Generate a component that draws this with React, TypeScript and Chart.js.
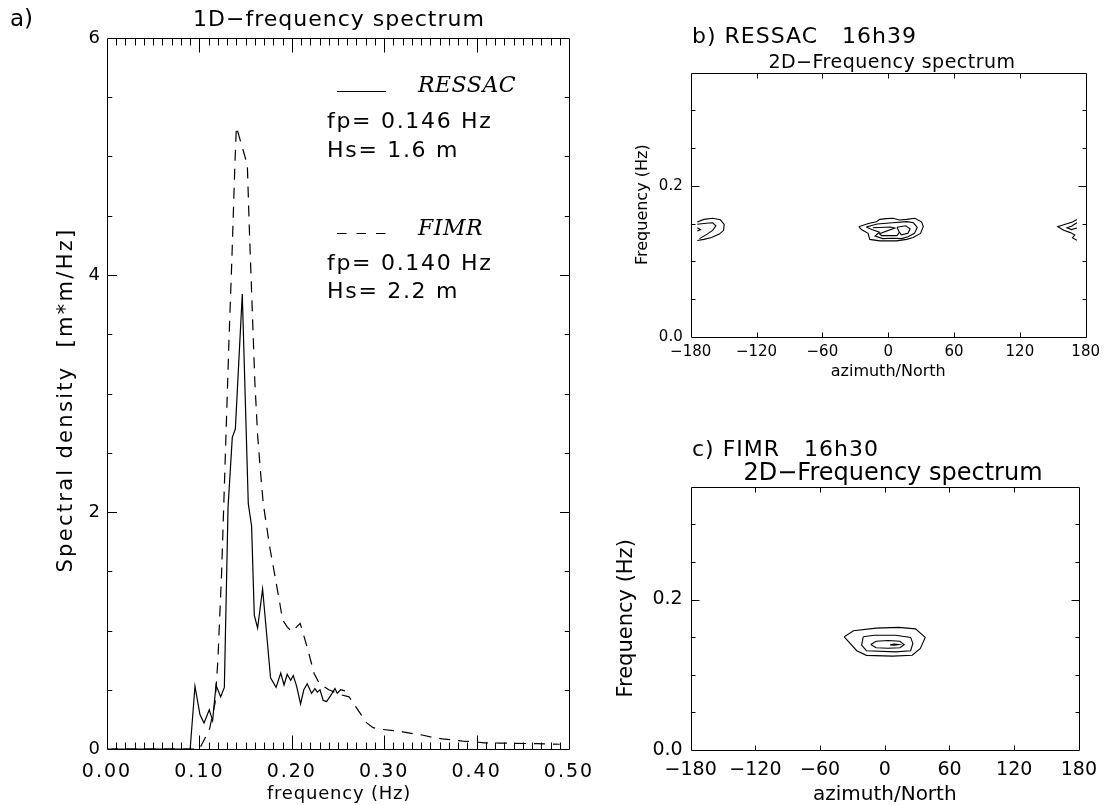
import React, { useEffect, useRef } from 'react';
import { Chart, registerables } from 'chart.js';

Chart.register(...registerables);

// ---------------- Panel a : 1D frequency spectrum ----------------
const RESSAC_FREQ = [0.005, 0.09, 0.0952, 0.1006, 0.105, 0.1107, 0.1143, 0.118, 0.123, 0.127, 0.131, 0.1356, 0.1389, 0.1464, 0.1529, 0.1565, 0.1594, 0.163, 0.1684, 0.177, 0.183, 0.188, 0.1916, 0.195, 0.1988, 0.2016, 0.2052, 0.2095, 0.213, 0.2167, 0.2214, 0.225, 0.2276, 0.2305, 0.234, 0.2377, 0.242, 0.2467, 0.2492, 0.2528, 0.2575];
const RESSAC_DENSITY = [0, 0, 0.53, 0.29, 0.22, 0.33, 0.24, 0.54, 0.44, 0.52, 2.04, 2.63, 2.7, 3.84, 2.07, 1.88, 1.13, 1.02, 1.35, 0.6, 0.52, 0.64, 0.54, 0.63, 0.58, 0.62, 0.53, 0.38, 0.5, 0.55, 0.47, 0.51, 0.48, 0.5, 0.41, 0.4, 0.45, 0.51, 0.47, 0.5, 0.49];

const FIMR_FREQ = [0.0, 0.1, 0.106, 0.111, 0.117, 0.12, 0.124, 0.1285, 0.132, 0.135, 0.1385, 0.14, 0.143, 0.15, 0.152, 0.154, 0.157, 0.16, 0.163, 0.166, 0.169, 0.171, 0.176, 0.182, 0.187, 0.19, 0.195, 0.2, 0.209, 0.2125, 0.218, 0.224, 0.23, 0.24, 0.252, 0.262, 0.268, 0.275, 0.281, 0.288, 0.298, 0.31, 0.32, 0.331, 0.341, 0.353, 0.363, 0.375, 0.385, 0.397, 0.408, 0.425, 0.442, 0.465, 0.49];
const FIMR_DENSITY = [0, 0, 0.09, 0.17, 0.39, 0.75, 1.48, 2.58, 3.45, 4.1, 4.95, 5.25, 5.17, 4.98, 4.9, 4.4, 3.75, 3.1, 2.65, 2.35, 2.08, 1.97, 1.71, 1.45, 1.23, 1.09, 1.03, 0.99, 1.06, 0.97, 0.82, 0.64, 0.55, 0.5, 0.46, 0.44, 0.37, 0.29, 0.22, 0.18, 0.165, 0.155, 0.145, 0.13, 0.118, 0.097, 0.086, 0.076, 0.066, 0.062, 0.052, 0.05, 0.048, 0.045, 0.04];

const A_X_TICKS = [0, 0.1, 0.2, 0.3, 0.4, 0.5];
const A_Y_TICKS = [0, 2, 4, 6];

// ---------------- Panels b, c : 2D spectra (contour lines, [azimuth, frequency]) ----------------
const AZ_TICKS = [-180, -120, -60, 0, 60, 120, 180];
const F2D_TICKS = [0.0, 0.2];

const RESSAC_CENTER_OUTER = [[-26.8, 0.1458], [-18, 0.15], [-10.7, 0.1524], [-7.6, 0.1556], [-2, 0.1565], [4.6, 0.157], [10, 0.1548], [16.8, 0.1556], [24.4, 0.157], [30.5, 0.152], [32, 0.146], [29.5, 0.137], [22.8, 0.1316], [16.8, 0.129], [7.6, 0.127], [-7.6, 0.127], [-16.8, 0.129], [-18.3, 0.137], [-24.4, 0.142], [-26.8, 0.1458]];
const RESSAC_CENTER_MID = [[-20, 0.1455], [-10, 0.1495], [4, 0.151], [17, 0.1525], [23, 0.151], [26.5, 0.145], [24, 0.137], [18, 0.1325], [12, 0.13], [4, 0.1305], [-5, 0.13], [-12, 0.1335], [-8, 0.1385], [-15, 0.142], [-20, 0.1455]];
const RESSAC_CENTER_INNER_A = [[-14, 0.1445], [2, 0.1455], [6, 0.144], [-8, 0.1365], [-6, 0.134], [8, 0.134], [10, 0.138]];
const RESSAC_CENTER_INNER_B = [[8, 0.145], [16, 0.147], [20, 0.143], [18, 0.137], [12, 0.135], [10, 0.139], [8, 0.145]];
const RESSAC_WEST_OUTER = [[-174, 0.152], [-168, 0.1555], [-160, 0.157], [-153, 0.155], [-149.5, 0.149], [-150, 0.141], [-154, 0.136], [-161, 0.1315], [-168, 0.129], [-174, 0.1275]];
const RESSAC_WEST_INNER = [[-174, 0.149], [-166, 0.1505], [-160, 0.151], [-157, 0.147], [-160, 0.141], [-165, 0.136], [-172, 0.13]];
const RESSAC_WEST_EDGE = [[-174, 0.14], [-171, 0.142], [-174, 0.1445]];
const RESSAC_EAST_OUTER = [[172, 0.1555], [168, 0.152], [160, 0.1485], [154.5, 0.1458], [160, 0.141], [166, 0.138], [170, 0.135], [168, 0.131], [172, 0.128]];
const RESSAC_EAST_INNER = [[172, 0.151], [167, 0.1465], [163, 0.1445], [167, 0.142], [172, 0.144]];

const FIMR_RING_1 = [[-37.6, 0.1505], [-29, 0.1585], [-8, 0.162], [13, 0.163], [28.5, 0.161], [37.5, 0.1497], [33, 0.135], [25.5, 0.126], [7.3, 0.1248], [-17, 0.1258], [-26, 0.132], [-37.6, 0.1505]];
const FIMR_RING_2 = [[-20, 0.1505], [-10, 0.1525], [10, 0.1525], [24, 0.1497], [26, 0.1417], [24, 0.132], [10, 0.1305], [-17, 0.132], [-21.5, 0.1394], [-20, 0.1505]];
const FIMR_RING_3 = [[-13, 0.1403], [-8, 0.1445], [3, 0.1455], [14, 0.1445], [18, 0.14], [14, 0.136], [3, 0.1352], [-8, 0.136], [-13, 0.1403]];
const FIMR_RING_4 = [[5, 0.1398], [9, 0.1408], [13, 0.1402], [9, 0.1393], [5, 0.1398]];

const RESSAC_CONTOURS = [RESSAC_CENTER_OUTER, RESSAC_CENTER_MID, RESSAC_CENTER_INNER_A, RESSAC_CENTER_INNER_B, RESSAC_WEST_OUTER, RESSAC_WEST_INNER, RESSAC_WEST_EDGE, RESSAC_EAST_OUTER, RESSAC_EAST_INNER];
const FIMR_CONTOURS = [FIMR_RING_1, FIMR_RING_2, FIMR_RING_3, FIMR_RING_4];

// ---------------- helpers ----------------
const SANS = "'DejaVu Sans', 'Liberation Sans', sans-serif";
const SERIF_IT = (s: number) => `italic ${s}px 'DejaVu Serif', 'Liberation Serif', serif`;
const sansF = (s: number) => `${s}px ${SANS}`;
const INK = '#000';

type Txt = { text: string; x: number; y: number; font: string; align?: CanvasTextAlign; spacing?: number; rotate?: boolean; baseline?: CanvasTextBaseline };
type Seg = { x1: number; y1: number; x2: number; y2: number; dash?: number[] };

function range(a: number, b: number, step: number, skip: number[] = []) {
  const out: number[] = [];
  const n = Math.round((b - a) / step);
  for (let i = 0; i <= n; i++) {
    const v = +(a + i * step).toFixed(6);
    if (!skip.some((s) => Math.abs(s - v) < 1e-9)) out.push(v);
  }
  return out;
}

function spacingPlugin(px: number) {
  return {
    id: 'letterSpacing',
    beforeDraw(chart: any) {
      (chart.ctx as any).letterSpacing = `${px}px`;
    },
    afterDraw(chart: any) {
      (chart.ctx as any).letterSpacing = '0px';
    },
  };
}

function framePlugin(cfg: { xMajor: number[]; xMinor: number[]; yMajor: number[]; yMinor: number[]; xLen: number; yLen: number }) {
  return {
    id: 'idlFrame',
    afterDatasetsDraw(chart: any) {
      const { ctx, chartArea: a, scales } = chart;
      const xs = scales.x;
      const ys = scales.y;
      const L = Math.round(a.left) + 0.5, R = Math.round(a.right) + 0.5, T = Math.round(a.top) + 0.5, B = Math.round(a.bottom) + 0.5;
      ctx.save();
      ctx.strokeStyle = INK;
      ctx.lineWidth = 1;
      ctx.setLineDash([]);
      ctx.beginPath();
      ctx.rect(L, T, R - L, B - T);
      const xt: [number[], number][] = [[cfg.xMajor, cfg.xLen], [cfg.xMinor, cfg.xLen / 2]];
      for (const [vals, len] of xt) {
        for (const v of vals) {
          const px = Math.round(xs.getPixelForValue(v)) + 0.5;
          ctx.moveTo(px, B); ctx.lineTo(px, B - len);
          ctx.moveTo(px, T); ctx.lineTo(px, T + len);
        }
      }
      const yt: [number[], number][] = [[cfg.yMajor, cfg.yLen], [cfg.yMinor, cfg.yLen / 2]];
      for (const [vals, len] of yt) {
        for (const v of vals) {
          const py = Math.round(ys.getPixelForValue(v)) + 0.5;
          ctx.moveTo(L, py); ctx.lineTo(L + len, py);
          ctx.moveTo(R, py); ctx.lineTo(R - len, py);
        }
      }
      ctx.stroke();
      ctx.restore();
    },
  };
}

function textPlugin(texts: Txt[], segs: Seg[] = []) {
  return {
    id: 'idlText',
    afterDraw(chart: any) {
      const { ctx } = chart;
      ctx.save();
      ctx.fillStyle = INK;
      ctx.strokeStyle = INK;
      for (const t of texts) {
        ctx.save();
        ctx.font = t.font;
        ctx.textAlign = t.align || 'left';
        ctx.textBaseline = t.baseline || 'alphabetic';
        (ctx as any).letterSpacing = `${t.spacing || 0}px`;
        ctx.translate(t.x, t.y);
        if (t.rotate) ctx.rotate(-Math.PI / 2);
        ctx.fillText(t.text, 0, 0);
        ctx.restore();
      }
      (ctx as any).letterSpacing = '0px';
      ctx.lineWidth = 1.2;
      for (const s of segs) {
        ctx.setLineDash(s.dash || []);
        ctx.beginPath();
        ctx.moveTo(s.x1, s.y1);
        ctx.lineTo(s.x2, s.y2);
        ctx.stroke();
      }
      ctx.restore();
    },
  };
}

const minusFmt = (v: number) => (v < 0 ? '\u2212' + Math.abs(v) : String(v));

// ---------------- chart builders ----------------
function buildA(): any {
  return {
    type: 'line',
    data: {
      datasets: [
        {
          label: 'RESSAC',
          data: RESSAC_FREQ.map((f, i) => ({ x: f, y: RESSAC_DENSITY[i] })),
          borderColor: INK, borderWidth: 1.2, pointRadius: 0, tension: 0, fill: false,
        },
        {
          label: 'FIMR',
          data: FIMR_FREQ.map((f, i) => ({ x: f, y: FIMR_DENSITY[i] })),
          borderColor: INK, borderWidth: 1.2, borderDash: [11, 8], pointRadius: 0, tension: 0, fill: false,
        },
      ],
    },
    options: {
      responsive: false, animation: false, devicePixelRatio: 1,
      layout: { padding: { left: 54, top: 38, right: 61, bottom: 3 } },
      plugins: { legend: { display: false }, tooltip: { enabled: false }, title: { display: false } },
      scales: {
        x: {
          type: 'linear', min: 0, max: 0.5, position: 'bottom',
          grid: { display: false, drawTicks: false }, border: { display: false },
          afterBuildTicks: (s: any) => { s.ticks = A_X_TICKS.map((v) => ({ value: v })); },
          afterFit: (s: any) => { s.height = 53; },
          ticks: { padding: 12, autoSkip: false, maxRotation: 0, color: INK, font: { family: SANS, size: 19 }, callback: (v: any) => Number(v).toFixed(2) },
          title: { display: false },
        },
        y: {
          type: 'linear', min: 0, max: 6, position: 'left',
          grid: { display: false, drawTicks: false }, border: { display: false },
          afterBuildTicks: (s: any) => { s.ticks = A_Y_TICKS.map((v) => ({ value: v })); },
          afterFit: (s: any) => { s.width = 107 - 54; },
          ticks: { padding: 5, autoSkip: false, color: INK, font: { family: SANS, size: 18 }, callback: (v: any) => String(v) },
          title: { display: false },
        },
      },
    },
    plugins: [
      spacingPlugin(2),
      framePlugin({ xMajor: range(0.1, 0.4, 0.1), xMinor: range(0.01, 0.49, 0.01, [0.1, 0.2, 0.3, 0.4]), yMajor: [2, 4], yMinor: range(0.5, 5.5, 0.5, [2, 4]), xLen: 14, yLen: 9.5 }),
      textPlugin(
        [
          { text: 'a)', x: 10, y: 26, font: sansF(23) },
          { text: '1D\u2212frequency spectrum', x: 339, y: 26, align: 'center', font: sansF(22), spacing: 1 },
          { text: 'frequency (Hz)', x: 339, y: 799, align: 'center', font: sansF(18), spacing: 0.8 },
          { text: 'Spectral density  [m*m/Hz]', x: 67, y: 400, align: 'center', baseline: 'middle', rotate: true, font: sansF(21), spacing: 2.3 },
          { text: 'RESSAC', x: 418, y: 92, font: SERIF_IT(22), spacing: 0.5 },
          { text: 'fp= 0.146 Hz', x: 327, y: 128, font: sansF(22), spacing: 1.7 },
          { text: 'Hs= 1.6 m', x: 327, y: 157, font: sansF(22), spacing: 1.7 },
          { text: 'FIMR', x: 418, y: 235, font: SERIF_IT(22), spacing: 0.5 },
          { text: 'fp= 0.140 Hz', x: 327, y: 270, font: sansF(22), spacing: 1.7 },
          { text: 'Hs= 2.2 m', x: 327, y: 298, font: sansF(22), spacing: 1.7 },
        ],
        [
          { x1: 337, y1: 91.5, x2: 386, y2: 91.5 },
          { x1: 337, y1: 233.5, x2: 387, y2: 233.5, dash: [9.5, 10] },
        ]
      ),
    ],
  };
}

function build2D(opts: {
  contours: number[][][];
  padLeft: number; axisW: number; padTop: number; padRight: number; axisH: number; padBottom: number;
  tickFont: number; xTickPad: number; yTickPad: number; titleFont: number; yTitleFont: number;
  texts: Txt[];
}): any {
  return {
    type: 'scatter',
    data: {
      datasets: opts.contours.map((c, i) => ({
        label: 'contour ' + (i + 1),
        data: c.map(([az, f]) => ({ x: az, y: f })),
        showLine: true, borderColor: INK, borderWidth: 1.1, pointRadius: 0, tension: 0, fill: false,
      })),
    },
    options: {
      responsive: false, animation: false, devicePixelRatio: 1,
      layout: { padding: { left: opts.padLeft, top: opts.padTop, right: opts.padRight, bottom: opts.padBottom } },
      plugins: { legend: { display: false }, tooltip: { enabled: false }, title: { display: false } },
      scales: {
        x: {
          type: 'linear', min: -180, max: 180, position: 'bottom',
          grid: { display: false, drawTicks: false }, border: { display: false },
          afterBuildTicks: (s: any) => { s.ticks = AZ_TICKS.map((v) => ({ value: v })); },
          afterFit: (s: any) => { s.height = opts.axisH; },
          ticks: { padding: opts.xTickPad, autoSkip: false, maxRotation: 0, color: INK, font: { family: SANS, size: opts.tickFont }, callback: (v: any) => minusFmt(Number(v)) },
          title: { display: true, text: 'azimuth/North', color: INK, font: { family: SANS, size: opts.titleFont }, padding: { top: 0, bottom: 0 } },
        },
        y: {
          type: 'linear', min: 0, max: 0.35, position: 'left',
          grid: { display: false, drawTicks: false }, border: { display: false },
          afterBuildTicks: (s: any) => { s.ticks = F2D_TICKS.map((v) => ({ value: v })); },
          afterFit: (s: any) => { s.width = opts.axisW; },
          ticks: { padding: opts.yTickPad, autoSkip: false, color: INK, font: { family: SANS, size: opts.tickFont }, callback: (v: any) => Number(v).toFixed(1) },
          title: { display: true, text: 'Frequency (Hz)', color: INK, font: { family: SANS, size: opts.yTitleFont }, padding: { top: 0, bottom: 0 } },
        },
      },
    },
    plugins: [
      framePlugin({ xMajor: [-120, -60, 0, 60, 120], xMinor: [], yMajor: [0.2], yMinor: [0.05, 0.1, 0.15, 0.25, 0.3], xLen: 5, yLen: 8 }),
      textPlugin(opts.texts),
    ],
  };
}

function buildB(): any {
  // canvas at page (630, 0), 476 x 390; plot area 60.7..456 x 72.7..336.7
  return build2D({
    contours: RESSAC_CONTOURS,
    padLeft: 3.7, axisW: 57, padTop: 72.7, padRight: 20, axisH: 44.9, padBottom: 8.4,
    tickFont: 15, xTickPad: 6, yTickPad: 8, titleFont: 16, yTitleFont: 16,
    texts: [
      { text: 'b) RESSAC   16h39', x: 62, y: 43, font: sansF(22), spacing: 1 },
      { text: '2D\u2212Frequency spectrum', x: 262, y: 68, align: 'center', font: sansF(19), spacing: 0.5 },
    ],
  });
}

function buildC(): any {
  // canvas at page (600, 390), 506 x 417; plot area 90.7..486 x 96.7..360
  return build2D({
    contours: FIMR_CONTOURS,
    padLeft: 14.4, axisW: 76.3, padTop: 96.7, padRight: 20, axisH: 57, padBottom: 0,
    tickFont: 19, xTickPad: 9, yTickPad: 8, titleFont: 20, yTitleFont: 21,
    texts: [
      { text: 'c) FIMR   16h30', x: 92, y: 66, font: sansF(22), spacing: 1 },
      { text: '2D\u2212Frequency spectrum', x: 293, y: 90, align: 'center', font: sansF(24) },
    ],
  });
}

function ChartCanvas({ left, top, width, height, build }: { left: number; top: number; width: number; height: number; build: () => any }) {
  const ref = useRef<HTMLCanvasElement | null>(null);
  useEffect(() => {
    if (!ref.current) return;
    const chart = new Chart(ref.current, build());
    return () => chart.destroy();
  }, []);
  return (
    <div style={{ position: 'absolute', left, top, width, height }}>
      <canvas ref={ref} width={width} height={height} style={{ width, height, display: 'block' }} />
    </div>
  );
}

export default function App() {
  return (
    <div style={{ position: 'absolute', left: 0, top: 0, width: 1106, height: 805, overflow: 'hidden', background: '#fff' }}>
      <ChartCanvas left={0} top={0} width={630} height={805} build={buildA} />
      <ChartCanvas left={630} top={0} width={476} height={390} build={buildB} />
      <ChartCanvas left={600} top={390} width={506} height={417} build={buildC} />
    </div>
  );
}
